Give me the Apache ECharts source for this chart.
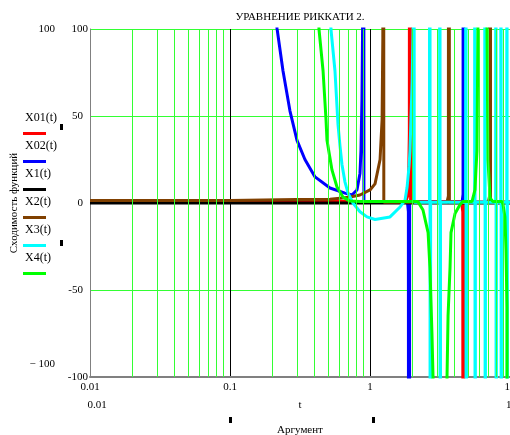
<!DOCTYPE html>
<html>
<head>
<meta charset="utf-8">
<script src="https://cdn.jsdelivr.net/npm/echarts@6/dist/echarts.min.js"></script>
<style>
  html, body { margin: 0; padding: 0; background: #fff; overflow: hidden; }
  #chart { width: 510px; height: 435px; }
</style>
</head>
<body>
<div id="chart"></div>
<script>
const titleText = 'УРАВНЕНИЕ РИККАТИ 2.'
const yTitle = 'Сходимость функций'
const xTitle = 'Аргумент'
const seriesNames = ['X01(t)', 'X02(t)', 'X1(t)', 'X2(t)', 'X3(t)', 'X4(t)']
const seriesColors = ['#ff0000', '#0000ff', '#000000', '#804000', '#00ffff', '#00ff00']
const yTicks = [-100, -50, 0, 50, 100]
const minorGridT = [0.02, 0.03, 0.04, 0.05, 0.06, 0.07, 0.08, 0.09,
  0.2, 0.3, 0.4, 0.5, 0.6, 0.7, 0.8, 0.9,
  2, 3, 4, 5, 6, 7, 8, 9]

// [t, value]; poles run past +-100 and get clipped
const x01 = [[0.01, 0.8], [0.3, 0.8], [1.0, 0.8], [1.8, 1], [1.88, 5], [1.91, 40],
  [1.93, 1000], [1.935, 1000], [1.95, 0.8], [4.5, 0.8], [4.6, -5], [4.64, -1000],
  [4.645, -1000], [4.67, 0.5], [10, 0.5]]
const x02 = [[0.01, 5000], [0.1, 800], [0.2, 130], [0.217, 100], [0.239, 76], [0.268, 53],
  [0.301, 36], [0.343, 25], [0.405, 15], [0.518, 8.6], [0.663, 5.7], [0.743, 4.6],
  [0.807, 7.5], [0.848, 17], [0.862, 30], [0.876, 60], [0.885, 100], [0.895, 1000],
  [0.898, 1000], [0.905, 0.5], [1.85, 0.5], [1.88, -5], [1.9, -1000], [1.905, -1000],
  [1.92, 0.5], [4.55, 0.5], [4.62, 5], [4.65, 1000], [4.655, 1000], [4.68, 0.5], [10, 0.5]]
const x1 = [[0.01, 0], [0.1, 0], [1, 0], [10, 0]]
const x2 = [[0.01, 1.4], [0.1, 1.4], [0.101, 2], [0.3, 2], [0.518, 2.2], [0.663, 3],
  [0.72, 3.4], [0.848, 4.6], [1.0, 7.5], [1.086, 11], [1.18, 25], [1.22, 48],
  [1.235, 95], [1.245, 1000], [1.248, 1000], [1.255, 0.5], [3.55, 0.5], [3.63, 4],
  [3.66, 1000], [3.665, 1000], [3.69, 0.5], [7.0, 0.5], [7.15, 4], [7.2, 1000],
  [7.21, 1000], [7.26, 0.5], [10, 0.5]]
const x3 = [[0.01, 5000], [0.3, 1000], [0.5, 150], [0.526, 100], [0.562, 76], [0.591, 45],
  [0.61, 33], [0.631, 22], [0.663, 12], [0.697, 5.7], [0.756, 0], [0.848, -5],
  [0.952, -8], [1.086, -9.5], [1.39, -8], [1.64, -2.3], [1.78, 1.7], [1.84, 9],
  [1.9, 21], [1.93, 30], [2.0, 70], [2.03, 100], [2.05, 1000], [2.055, 1000], [2.07, 0.5],
  [2.66, 0.5], [2.68, 1000], [2.69, -1000], [2.71, 0.5],
  [3.14, 0.5], [3.16, 1000], [3.17, -1000], [3.19, 0.5],
  [4.82, 0.5], [4.85, 1000], [4.86, -1000], [4.89, 0.5],
  [5.59, 0.5], [5.62, 1000], [5.63, -1000], [5.66, 0.5],
  [6.6, 0.5], [6.63, 1000], [6.65, -1000], [6.68, 0.5],
  [7.9, 0.5], [7.94, 1000], [7.96, -1000], [8.0, 0.5],
  [8.59, 0.5], [8.63, 1000], [8.65, -1000], [8.69, 0.5],
  [9.48, 0.5], [9.52, 1000], [9.54, -1000], [9.58, 0.5], [10, 0.5]]
const x4 = [[0.01, 5000], [0.3, 800], [0.42, 150], [0.432, 100], [0.462, 76], [0.485, 48],
  [0.493, 36], [0.535, 19], [0.581, 9.2], [0.641, 3.4], [0.72, 1.1], [0.848, 0.8],
  [1.5, 0.8], [2.2, 0.8], [2.39, -4], [2.6, -17], [2.68, -37], [2.77, -75], [2.82, -100],
  [2.86, -1000], [3.5, -1000], [3.55, -100], [3.61, -65], [3.73, -37], [3.79, -17],
  [4.05, -6], [4.39, -1], [4.6, 0.8], [5.35, 0.8], [5.62, 7.5], [5.71, 19], [5.81, 30],
  [5.9, 100], [5.95, 1000], [6.8, 1000], [6.85, 100], [6.96, 25], [7.2, 3], [7.55, 0.8],
  [8.77, 0.8], [8.92, -1], [9.2, -8], [9.36, -27], [9.52, -60], [9.69, -1000], [10, -1000]]
const seriesData = [x01, x02, x1, x2, x3, x4]

const serif = '"Liberation Serif", "DejaVu Serif", serif'
const chart = echarts.init(document.getElementById('chart'))

const legendItems = []
seriesNames.forEach((name, i) => {
  legendItems.push({
    type: 'text', x: 25, y: 118 + 28 * i, z: 100,
    style: { text: name, font: '12px ' + serif, fill: '#000', align: 'left', verticalAlign: 'middle' }
  })
  legendItems.push({
    type: 'rect', z: 100,
    shape: { x: 23, y: 132 + 28 * i, width: 23, height: 3 },
    style: { fill: seriesColors[i] }
  })
})

const marks = [[60, 124], [60, 240], [229, 417], [372, 417]].map(p => ({
  type: 'rect', shape: { x: p[0], y: p[1], width: 3, height: 6 }, style: { fill: '#000' }
}))

const texts = [
  { text: titleText, x: 300, y: 17, align: 'center' },
  { text: '100', x: 55, y: 29, align: 'right' },
  { text: '− 100', x: 55, y: 364, align: 'right' },
  { text: '0.01', x: 97, y: 405, align: 'center' },
  { text: 't', x: 300, y: 405, align: 'center' },
  { text: '10', x: 506, y: 405, align: 'left' },
  { text: xTitle, x: 300, y: 430, align: 'center' }
].map(t => ({
  type: 'text', x: t.x, y: t.y,
  style: { text: t.text, font: '11px ' + serif, fill: '#000', align: t.align, verticalAlign: 'middle' }
}))

const yTitleItem = {
  type: 'text', x: 14, y: 203, rotation: Math.PI / 2,
  style: { text: yTitle, font: '11px ' + serif, fill: '#000', align: 'center', verticalAlign: 'middle' }
}

const series = [{
  name: 'grid',
  type: 'line',
  data: [],
  silent: true,
  markLine: {
    silent: true,
    symbol: ['none', 'none'],
    label: { show: false },
    lineStyle: { color: '#33ff33', width: 1, type: 'solid' },
    data: minorGridT.map(t => ({ xAxis: t }))
  }
}]
seriesData.forEach((d, i) => {
  series.push({
    name: seriesNames[i],
    type: 'line',
    data: d,
    showSymbol: false,
    clip: true,
    lineStyle: { color: seriesColors[i], width: 3 },
    itemStyle: { color: seriesColors[i] }
  })
})

chart.setOption({
  animation: false,
  grid: { left: 90, top: 29, width: 420, height: 348, outerBoundsMode: 'none' },
  xAxis: {
    type: 'log',
    logBase: 10,
    min: 0.01,
    max: 10,
    axisLine: { onZero: false, lineStyle: { color: '#808080', width: 2 } },
    axisTick: { show: false },
    axisLabel: {
      margin: 5,
      color: '#000',
      fontFamily: serif,
      fontSize: 11,
      formatter: v => String(Number(v.toPrecision(3)))
    },
    splitLine: { show: true, lineStyle: { color: '#000', width: 1 } }
  },
  yAxis: {
    type: 'value',
    min: yTicks[0],
    max: yTicks[yTicks.length - 1],
    interval: 50,
    axisLine: { show: true, lineStyle: { color: '#808080', width: 1 } },
    axisTick: { show: false },
    axisLabel: {
      margin: 2,
      color: '#000',
      fontFamily: serif,
      fontSize: 11,
      formatter: v => (Math.abs(v) === 100 ? '{lim|' + v + '}' : '{mid|' + v + '}'),
      rich: {
        lim: { fontFamily: serif, fontSize: 11, color: '#000' },
        mid: { fontFamily: serif, fontSize: 11, color: '#000', padding: [0, 5, 0, 0] }
      }
    },
    splitLine: { show: true, lineStyle: { color: '#33ff33', width: 1 } }
  },
  graphic: [yTitleItem].concat(texts, marks, legendItems),
  series
})
</script>
</body>
</html>
